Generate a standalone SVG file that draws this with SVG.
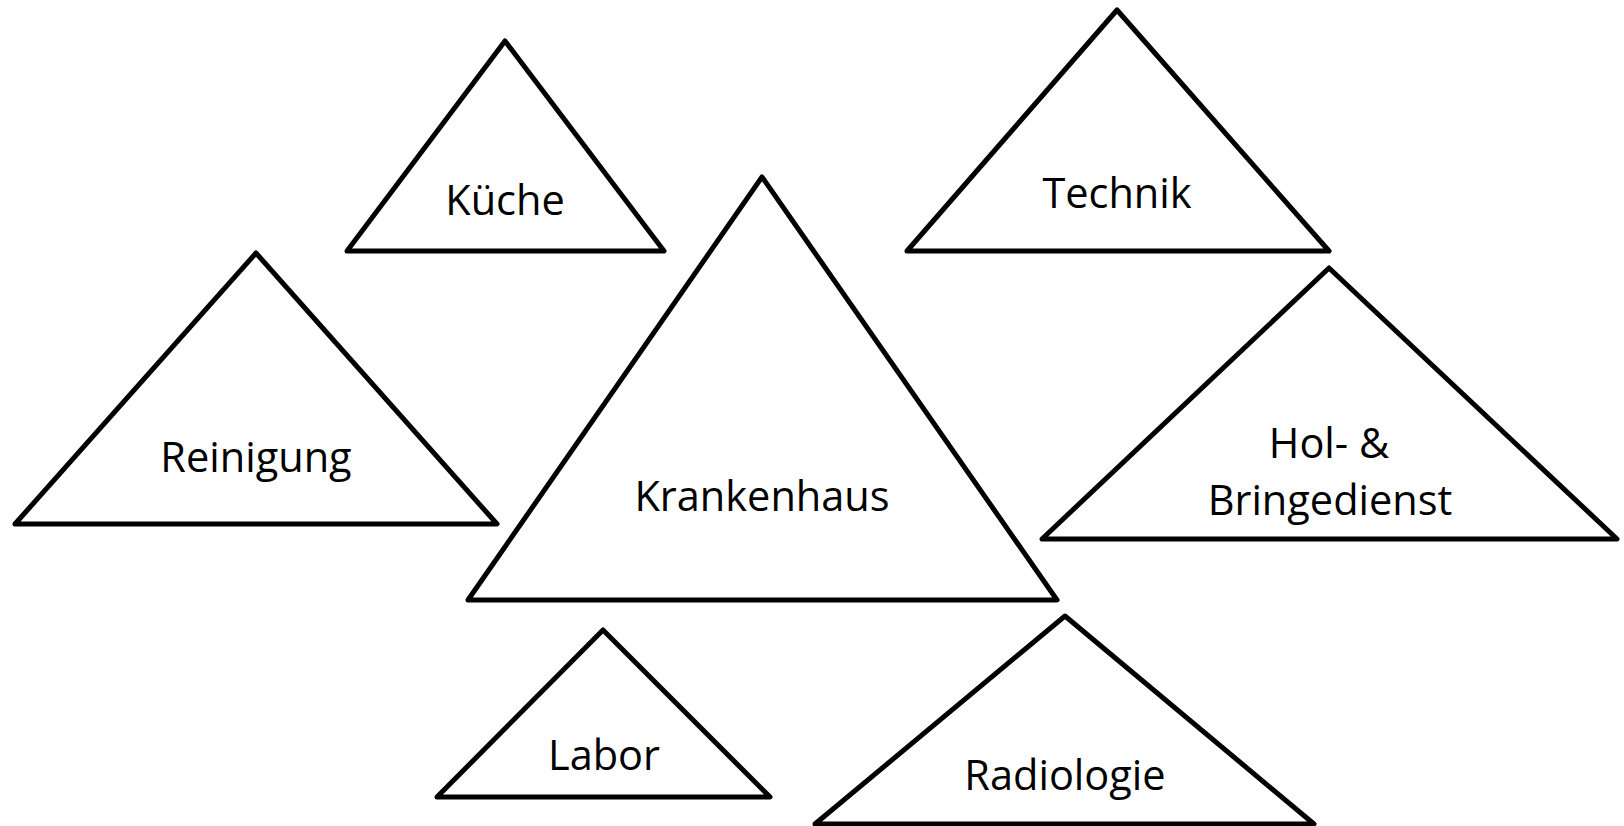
<svg xmlns="http://www.w3.org/2000/svg" width="1624" height="826" viewBox="0 0 1624 826">
<style>
.tri{fill:#fff;stroke:#000;stroke-width:5;stroke-linejoin:round}
.lbl{font-family:"Open Sans","Noto Sans","Liberation Sans",sans-serif;font-size:41.5px;fill:#000;text-anchor:middle}
</style>
<rect width="1624" height="826" fill="#fff"/>
<g id="connectors"></g>
<g id="kueche">
<polygon class="tri" points="505,41 664,251 347,251"/>
<text class="lbl" x="505" y="215">Küche</text>
</g>
<g id="technik">
<polygon class="tri" points="1117,10 1329,251 907,251"/>
<text class="lbl" x="1117" y="208">Technik</text>
</g>
<g id="reinigung">
<polygon class="tri" points="256,253 497,524 15,524"/>
<text class="lbl" x="256" y="472">Reinigung</text>
</g>
<g id="krankenhaus">
<polygon class="tri" points="762,177 1057,600 468,600"/>
<text class="lbl" x="762" y="511">Krankenhaus</text>
</g>
<g id="holbringedienst">
<polygon class="tri" points="1329,268 1617,539 1042,539"/>
<text class="lbl" x="1329" y="458">Hol- &amp;</text>
<text class="lbl" x="1330" y="515">Bringedienst</text>
</g>
<g id="labor">
<polygon class="tri" points="603,630 770,797 437,797"/>
<text class="lbl" x="604" y="770">Labor</text>
</g>
<g id="radiologie">
<polygon class="tri" points="1065,616 1314,824 815,824"/>
<text class="lbl" x="1065" y="790">Radiologie</text>
</g>
</svg>
